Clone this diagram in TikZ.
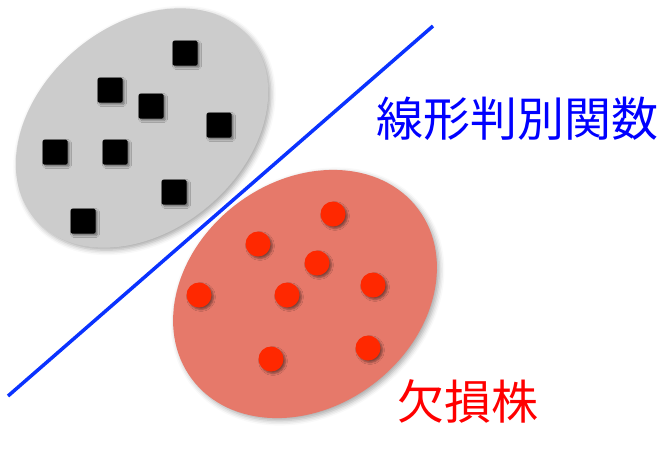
\documentclass[tikz,border=0pt]{standalone}
\usepackage{fontspec}
\newfontfamily\cjk{Noto Sans CJK JP}
\usetikzlibrary{shapes.geometric,shadows.blur}
\definecolor{grayfill}{RGB}{204,204,204}
\definecolor{redfill}{RGB}{230,121,106}
\definecolor{dotred}{RGB}{255,40,0}
\definecolor{lineblue}{RGB}{10,50,255}
\tikzset{
  blob/.style={ellipse, inner sep=0pt,
    blur shadow={shadow xshift=2.5pt, shadow yshift=-2.5pt, shadow blur radius=5pt, shadow opacity=35}},
  sq/.style={rectangle, fill=black, minimum size=25pt, inner sep=0pt, rounded corners=1.5pt,
    blur shadow={shadow xshift=2pt, shadow yshift=-2pt, shadow blur radius=2pt, shadow opacity=45}},
  dot/.style={circle, fill=dotred, minimum size=25pt, inner sep=0pt,
    blur shadow={shadow xshift=2pt, shadow yshift=-2pt, shadow blur radius=2pt, shadow opacity=45}},
  lbl/.style={font=\cjk\fontsize{47pt}{47pt}\selectfont, inner sep=0pt}
}
\begin{document}
\begin{tikzpicture}[x=1pt,y=-1pt]
\useasboundingbox (0,0) rectangle (666,456);
\node[blob, fill=grayfill, rotate=40, minimum width=281pt, minimum height=205pt] (g) at (142,128) {};
\node[blob, fill=redfill, rotate=37, minimum width=283pt, minimum height=226pt] (r) at (305,294) {};
\coordinate (l1) at (8,396);
\coordinate (l2) at (433,26);
\draw[lineblue, line width=3.5pt] (l1) -- (l2);
\node[sq] (s1) at (185,53) {};
\node[sq] (s2) at (110,90) {};
\node[sq] (s3) at (151,106) {};
\node[sq] (s4) at (219,125) {};
\node[sq] (s5) at (55,152) {};
\node[sq] (s6) at (115,152) {};
\node[sq] (s7) at (174,192) {};
\node[sq] (s8) at (83,221) {};
\node[dot] (d1) at (333,214) {};
\node[dot] (d2) at (258,244) {};
\node[dot] (d3) at (317,263) {};
\node[dot] (d4) at (199,295) {};
\node[dot] (d5) at (287,295) {};
\node[dot] (d6) at (373,285) {};
\node[dot] (d7) at (271,359) {};
\node[dot] (d8) at (368,348) {};
\node[lbl, text=blue] (t1) at (517,119) {線形判別関数};
\node[lbl, text=red] (t2) at (468,401) {欠損株};
\end{tikzpicture}
\end{document}
